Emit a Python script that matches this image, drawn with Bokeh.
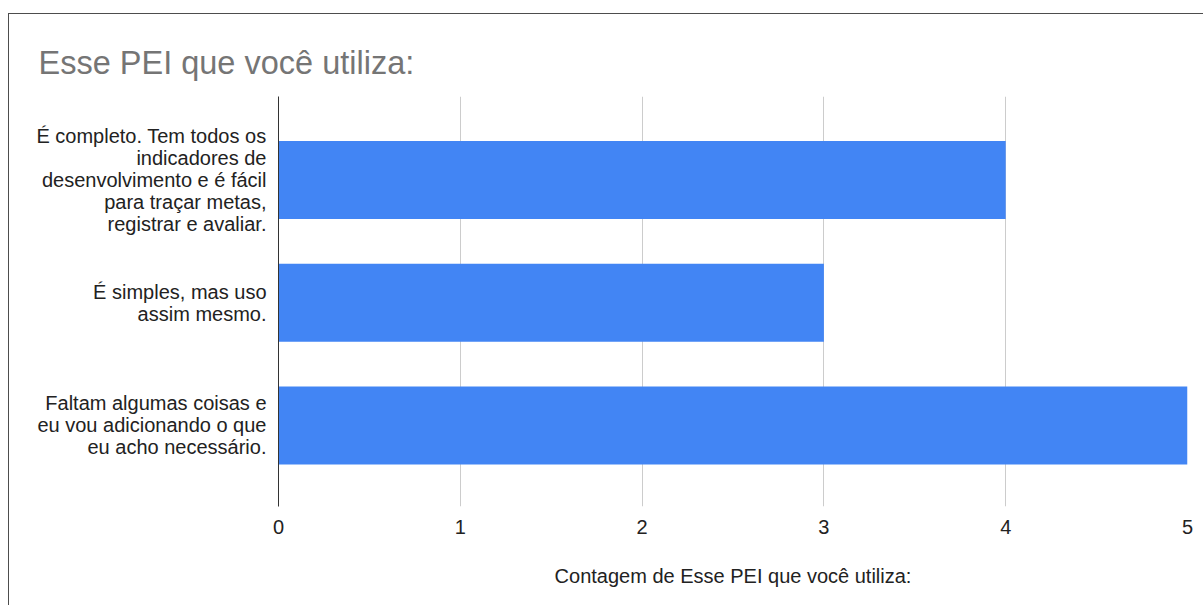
from bokeh.plotting import figure
from bokeh.models import Range1d, FixedTicker, ColumnDataSource
from bokeh.embed import file_html
from bokeh.resources import INLINE

title_text = "Esse PEI que você utiliza:"
categories = [
    "É completo. Tem todos os\nindicadores de\ndesenvolvimento e é fácil\npara traçar metas,\nregistrar e avaliar.",
    "É simples, mas uso\nassim mesmo.",
    "Faltam algumas coisas e\neu vou adicionando o que\neu acho necessário.",
]
counts = [4, 3, 5]
x_ticks = [0, 1, 2, 3, 4, 5]
x_label = "Contagem de Esse PEI que você utiliza:"

FONT = "Liberation Sans"

n = len(categories)
positions = [n - 1 - i for i in range(n)]
src = ColumnDataSource(dict(y=positions, right=counts, left=[0] * n))

p = figure(
    width=1195, height=592,
    x_range=Range1d(0, 5), y_range=Range1d(-0.66, 2.68),
    output_backend="svg", toolbar_location=None,
    min_border_left=269, min_border_right=17, min_border_top=82, min_border_bottom=100,
)
p.margin = (13, 0, 0, 8)
p.styles = {"border-top": "1px solid #4d4d4d", "border-left": "1px solid #4d4d4d"}

p.hbar(y="y", left="left", right="right", height=0.635, source=src,
       fill_color="#4285F4", line_color=None)

p.title.text = title_text
p.title.align = "left"
p.title.offset = -240
p.title.standoff = 32
p.title.text_font = FONT
p.title.text_font_size = "32.5px"
p.title.text_font_style = "normal"
p.title.text_color = "#757575"
p.title.text_line_height = 0.9

p.outline_line_color = None
p.background_fill_color = "white"
p.border_fill_color = "white"

p.xgrid.ticker = FixedTicker(ticks=x_ticks)
p.xgrid.grid_line_color = "#cccccc"
p.xgrid.grid_line_width = 1
p.ygrid.grid_line_color = None

xa = p.xaxis[0]
xa.ticker = FixedTicker(ticks=x_ticks)
xa.axis_line_color = None
xa.major_tick_line_color = None
xa.minor_tick_line_color = None
xa.major_label_standoff = 7
xa.major_label_text_font = FONT
xa.major_label_text_font_size = "20px"
xa.major_label_text_color = "#222222"
xa.axis_label = x_label
xa.axis_label_standoff = 28
xa.axis_label_text_font = FONT
xa.axis_label_text_font_size = "20px"
xa.axis_label_text_font_style = "normal"
xa.axis_label_text_color = "#222222"

ya = p.yaxis[0]
ya.ticker = FixedTicker(ticks=positions)
ya.major_label_overrides = {pos: lab for pos, lab in zip(positions, categories)}
ya.axis_line_color = "#333333"
ya.axis_line_width = 1
ya.major_tick_line_color = None
ya.minor_tick_line_color = None
ya.major_label_standoff = 6
ya.major_label_text_font = FONT
ya.major_label_text_font_size = "20px"
ya.major_label_text_color = "#222222"
ya.major_label_text_line_height = 1.0

open("out.html", "w").write(file_html(p, INLINE))
